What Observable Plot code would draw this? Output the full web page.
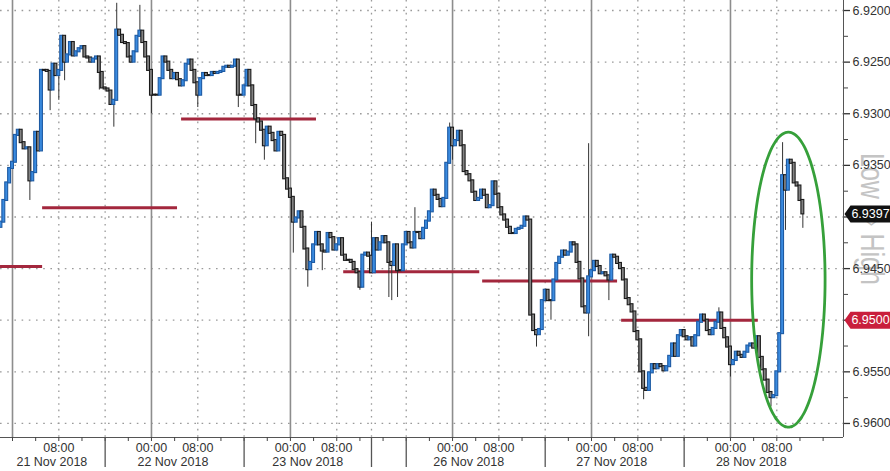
<!DOCTYPE html>
<html><head><meta charset="utf-8">
<script src="https://cdn.jsdelivr.net/npm/d3@7"></script>
<script src="https://cdn.jsdelivr.net/npm/@observablehq/plot@0.6"></script>
<style>
html,body{margin:0;padding:0;background:#fff;}
#chart svg{display:block;}
</style></head><body><div id="chart"></div>
<script>
// ---- data (USD/CNH, 30-minute bars, x = plotted session hours from 21 Nov 00:00) ----
const barStart = -2;
const barStep = 0.5;
const firstOpen = 6.9410;
const closes = [
6.9405,6.9384,6.9367,6.9353,6.9347,6.9321,6.9316,6.9328,6.9334,6.9333,
6.9365,6.9357,6.9318,6.9336,6.9258,6.9258,6.9259,6.9277,6.9252,6.9263,
6.9258,6.9225,6.9250,6.9243,6.9231,6.9244,6.9240,6.9237,6.9235,6.9245,
6.9246,6.9250,6.9247,6.9245,6.9260,6.9275,6.9276,6.9278,6.9291,6.9287,
6.9219,6.9224,6.9231,6.9232,6.9245,6.9250,6.9240,6.9225,6.9220,6.9231,
6.9245,6.9258,6.9282,6.9282,6.9282,6.9266,6.9245,6.9250,6.9258,6.9266,
6.9261,6.9267,6.9273,6.9268,6.9252,6.9248,6.9258,6.9270,6.9282,6.9266,
6.9261,6.9263,6.9263,6.9260,6.9261,6.9260,6.9259,6.9255,6.9254,6.9255,
6.9254,6.9248,6.9282,6.9282,6.9273,6.9258,6.9273,6.9292,6.9305,6.9308,
6.9316,6.9331,6.9313,6.9319,6.9326,6.9336,6.9318,6.9321,6.9363,6.9373,
6.9381,6.9405,6.9401,6.9395,6.9410,6.9431,6.9451,6.9444,6.9427,6.9415,
6.9427,6.9433,6.9434,6.9416,6.9420,6.9432,6.9427,6.9421,6.9437,6.9442,
6.9442,6.9444,6.9451,6.9454,6.9468,6.9437,6.9435,6.9438,6.9454,6.9421,
6.9432,6.9425,6.9419,6.9425,6.9444,6.9447,6.9427,6.9452,6.9452,6.9427,
6.9415,6.9425,6.9430,6.9415,6.9415,6.9421,6.9411,6.9404,6.9395,6.9374,
6.9379,6.9383,6.9390,6.9382,6.9348,6.9314,6.9331,6.9326,6.9317,6.9331,
6.9356,6.9359,6.9365,6.9376,6.9384,6.9382,6.9374,6.9379,6.9391,6.9389,
6.9366,6.9378,6.9391,6.9398,6.9403,6.9410,6.9416,6.9416,6.9412,6.9411,
6.9409,6.9400,6.9403,6.9495,6.9510,6.9514,6.9509,6.9481,6.9471,6.9481,
6.9481,6.9461,6.9445,6.9439,6.9433,6.9437,6.9434,6.9425,6.9427,6.9444,
6.9460,6.9487,6.9493,6.9458,6.9452,6.9443,6.9448,6.9455,6.9454,6.9457,
6.9461,6.9437,6.9439,6.9445,6.9450,6.9461,6.9479,6.9485,6.9492,6.9511,
6.9519,6.9550,6.9566,6.9568,6.9551,6.9543,6.9547,6.9543,6.9545,6.9549,
6.9545,6.9535,6.9523,6.9535,6.9515,6.9510,6.9516,6.9519,6.9517,6.9525,
6.9515,6.9502,6.9495,6.9500,6.9510,6.9514,6.9508,6.9502,6.9493,6.9508,
6.9517,6.9526,6.9543,6.9539,6.9531,6.9534,6.9536,6.9531,6.9525,6.9523,
6.9527,6.9516,6.9536,6.9548,6.9558,6.9570,6.9575,6.9573,6.9550,6.9513,
6.9360,6.9374,6.9345,6.9348,6.9367,6.9370,6.9384,6.9397
];
// wick extremes (bar index, extreme price)
const wickBar = [10,17,20,22,34,39,40,48,52,68,82,88,91,101,106,111,124,128,134,135,137,143,155,156,185,190,203,203,210,222,248,252,266,270,271,277];
const wickExt = [6.9384,6.9297,6.9287,6.9268,6.9277,6.9313,6.9193,6.9195,6.9300,6.9294,6.9294,6.9329,6.9345,6.9435,6.9468,6.9452,6.9471,6.9405,6.9478,6.9481,6.9478,6.9391,6.9309,6.9345,6.9526,6.9500,6.9329,6.9516,6.9481,6.9577,6.9488,6.9555,6.9584,6.9328,6.9413,6.9411];
// daily fixing levels
const fixStart = [-2.07, 5.2, 29.2, 57.2, 81.2, 105.2];
const fixEnd   = [5.2, 28.5, 52.5, 80.7, 104.5, 128.8];
const fixLevel = [6.9448, 6.9391, 6.9305, 6.9453, 6.9462, 6.9500];
// axes
const xDomain = [-2.073, 143.52];
const yDomain = [6.91903, 6.96136];
const yMajor = [6.9200, 6.9250, 6.9300, 6.9350, 6.9400, 6.9450, 6.9500, 6.9550, 6.9600];
const yMinor = [6.9225, 6.9275, 6.9325, 6.9375, 6.9425, 6.9475, 6.9525, 6.9575];
const yHidden = [6.9400, 6.9500];
const dayStarts = [0, 24, 48, 76, 100, 124];
const dottedLines = [8, 16, 32, 40, 56, 62, 68, 84, 92, 108, 116, 132];
const separators = [16, 40, 62, 68, 92, 116];
const timeTicks = [8, 24, 32, 48, 56, 76, 84, 100, 108, 124, 132];
const timeLabels = ["08:00","00:00","08:00","00:00","08:00","00:00","08:00","00:00","08:00","00:00","08:00"];
const datePos = [6.8, 27.7, 51.0, 78.8, 103.5, 127.6];
const dateLabels = ["21 Nov 2018","22 Nov 2018","23 Nov 2018","26 Nov 2018","27 Nov 2018","28 Nov 2018"];
const lastPrice = 6.9397;
const markedLevel = 6.9500;
const ellipseT = 134.0, ellipseP = 6.94607, ellipseRT = 6.34, ellipseRP = 0.01429;
const watermark = "Low \u21E8 High";

// ---- derived tables ----
const bars = closes.map((c, i) => ({t: barStart + i * barStep, open: i ? closes[i - 1] : firstOpen, close: c}));
const wicks = wickBar.map((b, i) => ({t: bars[b].t, ext: wickExt[i], close: bars[b].close}));
const fixes = fixLevel.map((v, i) => ({x1: fixStart[i], x2: fixEnd[i], y: v}));
const ellipse = d3.range(0, 361, 3).map(a => ({
  t: ellipseT + ellipseRT * Math.cos(a * Math.PI / 180),
  p: ellipseP + ellipseRP * Math.sin(a * Math.PI / 180)
}));
const times = timeTicks.map((t, i) => ({t, label: timeLabels[i]}));
const dates = datePos.map((t, i) => ({t, label: dateLabels[i]}));
const fmt = d3.format(".4f");
const tag = {draw(ctx) { ctx.moveTo(1, 0); ctx.lineTo(7, -8.5); ctx.lineTo(48, -8.5); ctx.lineTo(48, 8.5); ctx.lineTo(7, 8.5); ctx.closePath(); }};
const up = d => d.close < d.open;

const chart = Plot.plot({
  width: 890, height: 471,
  marginLeft: 0, marginRight: 47, marginTop: 0, marginBottom: 34,
  style: {fontFamily: "'Liberation Sans', Arial, sans-serif", fontSize: "12.5px", color: "#333", background: "#fff", overflow: "visible"},
  x: {type: "linear", domain: xDomain, axis: null},
  y: {type: "linear", domain: yDomain, reverse: true, axis: null},
  marks: [
    Plot.ruleY(yMajor, {stroke: "#9a9a9a", strokeDasharray: "1.6,5.6", strokeWidth: 1.3}),
    Plot.ruleX(dottedLines, {stroke: "#9a9a9a", strokeDasharray: "1.6,4.8", strokeWidth: 1.3}),
    Plot.ruleX(dayStarts, {stroke: "#8d8d8d", strokeWidth: 1.6}),
    Plot.ruleY(fixes, {y: "y", x1: "x1", x2: "x2", stroke: "#a3273d", strokeWidth: 3}),
    Plot.ruleX(wicks, {x: "t", y1: "ext", y2: "close", stroke: "#333", strokeWidth: 1}),
    Plot.rect(bars, {
      x1: d => d.t - 0.25, x2: d => d.t + 0.25, y1: "open", y2: "close",
      fill: d => up(d) ? "#3a8be0" : "#838383",
      stroke: d => up(d) ? "#1d5aa3" : "#1a1a1a", strokeWidth: 1.1,
      insetTop: -0.5, insetBottom: -0.5
    }),
    Plot.line(ellipse, {x: "t", y: "p", stroke: "#36a03a", strokeWidth: 2.8, curve: "catmull-rom"}),
    // frame lines
    Plot.ruleX([xDomain[1]], {stroke: "#555", strokeWidth: 1}),
    Plot.ruleY([yDomain[1]], {stroke: "#555", strokeWidth: 1}),
    // watermark (behind labels and tags)
    Plot.text([watermark], {frameAnchor: "right", dx: 28, rotate: 90, textAnchor: "middle", lineAnchor: "middle", text: d => d, fontSize: 33, fill: "#c4c4c4"}),
    // right axis
    Plot.axisY(yMajor, {anchor: "right", tickSize: 6, tickPadding: 3, stroke: "#333", strokeWidth: 1.3,
      tickFormat: d => yHidden.some(h => Math.abs(h - d) < 1e-7) ? "" : fmt(d), fill: "#333", fontSize: 12.5}),
    Plot.axisY(yMinor, {anchor: "right", tickSize: 4, tickFormat: () => "", stroke: "#444"}),
    // bottom axis
    Plot.axisX(d3.range(0, 144, 4), {anchor: "bottom", tickSize: 4, tickFormat: () => "", stroke: "#444"}),
    Plot.axisX(separators, {anchor: "bottom", tickSize: 30, tickFormat: () => "", stroke: "#555", strokeWidth: 1.3}),
    Plot.text(times, {x: "t", frameAnchor: "bottom", dy: 10, text: "label", textAnchor: "middle", lineAnchor: "middle", fill: "#333", fontSize: 12.5}),
    Plot.text(dates, {x: "t", frameAnchor: "bottom", dy: 24, text: "label", textAnchor: "middle", lineAnchor: "middle", fill: "#333", fontSize: 12.5}),
    // price tags
    Plot.dot([lastPrice], {y: d => d, frameAnchor: "right", symbol: tag, fill: "#111", stroke: null}),
    Plot.text([lastPrice], {y: d => d, frameAnchor: "right", dx: 27, textAnchor: "middle", lineAnchor: "middle", text: d => fmt(d), fill: "#fff", fontSize: 12.5}),
    Plot.dot([markedLevel], {y: d => d, frameAnchor: "right", symbol: tag, fill: "#c91f3c", stroke: null}),
    Plot.text([markedLevel], {y: d => d, frameAnchor: "right", dx: 27, textAnchor: "middle", lineAnchor: "middle", text: d => fmt(d), fill: "#fff", fontSize: 12.5})
  ]
});
document.getElementById("chart").appendChild(chart);
chart.querySelectorAll("text").forEach(el => {
  if (el.textContent === watermark) {
    const tr = el.getAttribute("transform") || "";
    el.setAttribute("transform", tr + " scale(0.76,1)");
  }
});
</script></body></html>
